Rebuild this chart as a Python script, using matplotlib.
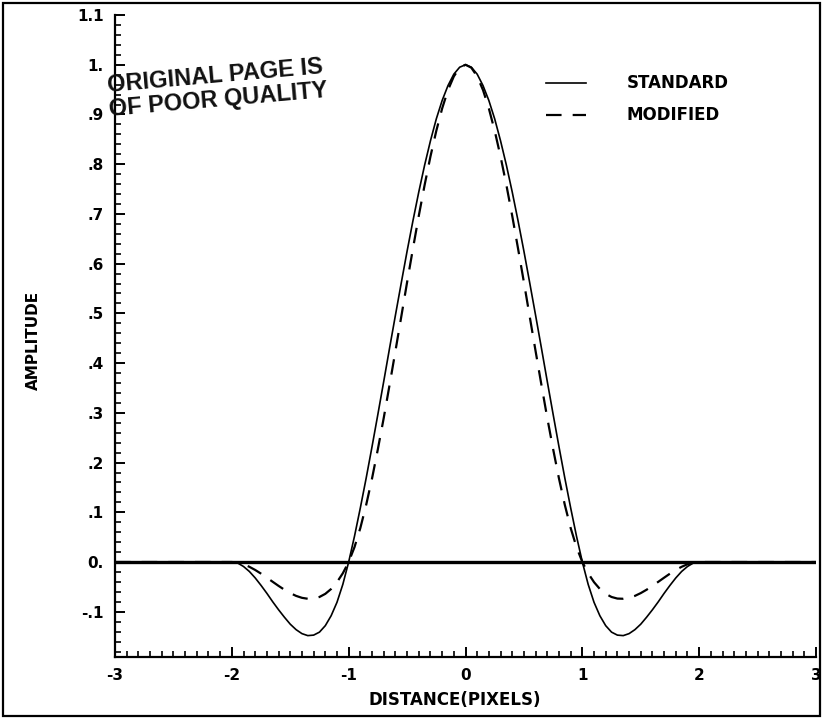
#!/usr/bin/env python3
"""Cubic convolution interpolation kernel: standard vs modified."""
import numpy as np

import matplotlib

matplotlib.use("Agg")
import matplotlib.pyplot as plt
from matplotlib.patches import Rectangle
from matplotlib.ticker import MultipleLocator

W, H = 823, 719

DIST = [-3.0,
        -2.0, -1.95, -1.9, -1.85, -1.8, -1.75, -1.7, -1.65, -1.6, -1.55,
        -1.5, -1.45, -1.4, -1.35, -1.3, -1.25, -1.2, -1.15, -1.1, -1.05,
        -1.0, -0.95, -0.9, -0.85, -0.8, -0.75, -0.7, -0.65, -0.6, -0.55,
        -0.5, -0.45, -0.4, -0.35, -0.3, -0.25, -0.2, -0.15, -0.1, -0.05,
        0.0,
        0.05, 0.1, 0.15, 0.2, 0.25, 0.3, 0.35, 0.4, 0.45, 0.5,
        0.55, 0.6, 0.65, 0.7, 0.75, 0.8, 0.85, 0.9, 0.95, 1.0,
        1.05, 1.1, 1.15, 1.2, 1.25, 1.3, 1.35, 1.4, 1.45, 1.5,
        1.55, 1.6, 1.65, 1.7, 1.75, 1.8, 1.85, 1.9, 1.95, 2.0,
        3.0]
STANDARD = [0.0,
            0.0, -0.002, -0.009, -0.019, -0.032, -0.047, -0.063, -0.080, -0.096, -0.111,
            -0.125, -0.136, -0.144, -0.148, -0.147, -0.141, -0.128, -0.108, -0.081, -0.045,
            0.0, 0.052, 0.109, 0.169, 0.232, 0.297, 0.363, 0.430, 0.496, 0.561,
            0.625, 0.686, 0.744, 0.798, 0.847, 0.891, 0.928, 0.958, 0.981, 0.995,
            1.0,
            0.995, 0.981, 0.958, 0.928, 0.891, 0.847, 0.798, 0.744, 0.686, 0.625,
            0.561, 0.496, 0.430, 0.363, 0.297, 0.232, 0.169, 0.109, 0.052, 0.0,
            -0.045, -0.081, -0.108, -0.128, -0.141, -0.147, -0.148, -0.144, -0.136, -0.125,
            -0.111, -0.096, -0.080, -0.063, -0.047, -0.032, -0.019, -0.009, -0.002, 0.0,
            0.0]
MODIFIED = [0.0,
            0.0, -0.0012, -0.0045, -0.0096, -0.016, -0.0234, -0.0315, -0.0398, -0.048, -0.0557,
            -0.0625, -0.0681, -0.072, -0.0739, -0.0735, -0.0703, -0.064, -0.0542, -0.0405, -0.0226,
            0.0, 0.030, 0.0685, 0.115, 0.168, 0.227, 0.2895, 0.356, 0.424, 0.493,
            0.5625, 0.630, 0.696, 0.758, 0.8155, 0.867, 0.912, 0.949, 0.9765, 0.994,
            1.0,
            0.994, 0.9765, 0.949, 0.912, 0.867, 0.8155, 0.758, 0.696, 0.630, 0.5625,
            0.493, 0.424, 0.356, 0.2895, 0.227, 0.168, 0.115, 0.0685, 0.030, 0.0,
            -0.0226, -0.0405, -0.0542, -0.064, -0.0703, -0.0735, -0.0739, -0.072, -0.0681, -0.0625,
            -0.0557, -0.048, -0.0398, -0.0315, -0.0234, -0.016, -0.0096, -0.0045, -0.0012, 0.0,
            0.0]

Y_TICKS = [-0.1, 0.0, 0.1, 0.2, 0.3, 0.4, 0.5, 0.6, 0.7, 0.8, 0.9, 1.0, 1.1]
Y_TICK_LABELS = ["-.1", "0.", ".1", ".2", ".3", ".4", ".5", ".6", ".7", ".8", ".9", "1.", "1.1"]
X_TICKS = [-3, -2, -1, 0, 1, 2, 3]
X_TICK_LABELS = ["-3", "-2", "-1", "0", "1", "2", "3"]


def fx(px):
    return px / W


def fy(py):
    return 1 - py / H


def main():
    plt.rcParams["font.family"] = "DejaVu Sans"
    fig = plt.figure(figsize=(W / 100, H / 100), dpi=100)
    left, right, top, bottom = 115, 816, 15, 657
    ax = fig.add_axes([fx(left), fy(bottom), fx(right - left), fy(top) - fy(bottom)])

    ax.plot(DIST, STANDARD, "-", color="black", lw=1.2, label="STANDARD")
    ax.plot(DIST, MODIFIED, color="black", lw=1.6, dashes=(7, 5), label="MODIFIED")
    ax.axhline(0, color="black", lw=2.4, zorder=1)

    ax.set_xlim(-3, 3)
    ax.set_ylim(-0.191, 1.1)
    for s in ("top", "right"):
        ax.spines[s].set_visible(False)
    for s in ("left", "bottom"):
        ax.spines[s].set_linewidth(1.6)

    ax.set_xticks(X_TICKS)
    ax.set_xticklabels(X_TICK_LABELS)
    ax.set_yticks(Y_TICKS)
    ax.set_yticklabels(Y_TICK_LABELS)
    ax.xaxis.set_minor_locator(MultipleLocator(0.1))
    ax.yaxis.set_minor_locator(MultipleLocator(0.02))
    ax.tick_params(which="major", direction="in", length=7, width=1.4,
                   labelsize=11, pad=8)
    ax.tick_params(which="minor", direction="in", length=4, width=1.2)
    for lab in ax.get_xticklabels() + ax.get_yticklabels():
        lab.set_fontweight("bold")

    fig.text(fx(33), fy(340), "AMPLITUDE", rotation=90, ha="center", va="center",
             fontsize=11, fontweight="bold")
    fig.text(fx(455), fy(700), "DISTANCE(PIXELS)", ha="center", va="center",
             fontsize=12, fontweight="bold")

    ax.legend(loc="upper left", bbox_to_anchor=(fx(538), fy(66)),
              bbox_transform=fig.transFigure, frameon=False,
              handlelength=2.4, handletextpad=2.4, labelspacing=0.85,
              borderpad=0, prop={"size": 12, "weight": "bold"})

    # the "poor quality" stamp over the upper left of the plot
    fig.text(fx(106), fy(88), "ORIGINAL PAGE IS\nOF POOR QUALITY", rotation=5,
             ha="left", va="center", fontsize=17, linespacing=1.05,
             color="#111111", family="Liberation Sans", fontweight="semibold")

    fig.patches.append(Rectangle((fx(3), fy(716)), fx(817), fy(3) - fy(716),
                                 transform=fig.transFigure, fill=False,
                                 edgecolor="black", lw=1.6))

    fig.savefig("out.png", dpi=100)


if __name__ == "__main__":
    main()
